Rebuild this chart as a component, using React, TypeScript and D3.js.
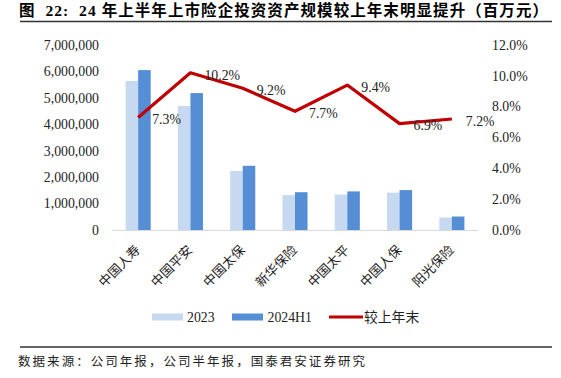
import React from "react";
import * as d3 from "d3";

const categories = ["中国人寿", "中国平安", "中国太保", "新华保险", "中国太平", "中国人保", "阳光保险"];
const series2023 = [5640000, 4690000, 2230000, 1320000, 1340000, 1410000, 470000];
const series2024H1 = [6050000, 5180000, 2430000, 1430000, 1460000, 1510000, 510000];
const growth = [0.073, 0.102, 0.092, 0.077, 0.094, 0.069, 0.072];
const leftTicks = [0, 1000000, 2000000, 3000000, 4000000, 5000000, 6000000, 7000000];
const rightTicks = [0, 0.02, 0.04, 0.06, 0.08, 0.1, 0.12];
const seriesNames = ["2023", "2024H1", "较上年末"];
const title = "图  22:  24 年上半年上市险企投资资产规模较上年末明显提升（百万元）";
const source = "数据来源：公司年报，公司半年报，国泰君安证券研究";

const C_LIGHT = "#C6D9F1";
const C_DARK = "#558ED5";
const C_RED = "#C00000";
const SERIF = "'Liberation Serif', 'Times New Roman', 'Noto Sans CJK SC', serif";
const CJK = "'Noto Sans CJK SC', 'Liberation Serif', serif";

export default function App() {
  const W = 561, H = 378;
  const x0 = d3.scaleBand<string>().domain(categories).range([112, 478]).paddingInner(0.52).paddingOuter(0.26);
  const x1 = d3.scaleBand<string>().domain(["2023", "2024H1"]).range([0, x0.bandwidth()]).padding(0);
  const yL = d3.scaleLinear().domain([0, 7000000]).range([230, 45]);
  const yR = d3.scaleLinear().domain([0, 0.12]).range([230, 45]);
  const fmtL = d3.format(",");
  const fmtR = d3.format(".1%");
  const cx = (c: string) => (x0(c) as number) + x0.bandwidth() / 2;
  const line = d3.line<number>().x((_, i) => cx(categories[i])).y((d) => yR(d));

  return (
    <svg width={W} height={H} style={{ position: "absolute", left: 0, top: 0, background: "#fff", display: "block" }}>
      <rect x={0} y={0} width={W} height={H} fill="#fff" />
      {/* title */}
      <text x={19} y={16} fontSize={15.5} fontWeight="bold" fontFamily={SERIF} textLength={529} lengthAdjust="spacing" fill="#000" style={{ whiteSpace: "pre" }}>
        {title}
      </text>
      <line x1={20} x2={552} y1={21.5} y2={21.5} stroke="#333" strokeWidth={1.3} />

      {/* left axis */}
      {leftTicks.map((t) => (
        <text key={"l" + t} x={99} y={yL(t)} dy="0.35em" textAnchor="end" fontSize={13.8} fontFamily={SERIF} fill="#222">
          {fmtL(t)}
        </text>
      ))}
      {/* right axis */}
      {rightTicks.map((t) => (
        <text key={"r" + t} x={492} y={yR(t)} dy="0.35em" textAnchor="start" fontSize={13.8} fontFamily={SERIF} fill="#222">
          {fmtR(t)}
        </text>
      ))}

      {/* bars */}
      {categories.map((c, i) => (
        <g key={c}>
          <rect x={(x0(c) as number) + (x1("2023") as number)} y={yL(series2023[i])} width={x1.bandwidth()} height={yL(0) - yL(series2023[i])} fill={C_LIGHT} />
          <rect x={(x0(c) as number) + (x1("2024H1") as number)} y={yL(series2024H1[i])} width={x1.bandwidth()} height={yL(0) - yL(series2024H1[i])} fill={C_DARK} />
        </g>
      ))}
      <line x1={112} x2={478} y1={230.5} y2={230.5} stroke="#D9D9D9" strokeWidth={1.2} />

      {/* line */}
      <path d={line(growth) as string} fill="none" stroke={C_RED} strokeWidth={3.2} strokeLinejoin="round" />
      {growth.map((g, i) => (
        <text key={"g" + i} x={cx(categories[i]) + 14} y={yR(g) + 2} dy="0.35em" fontSize={13.8} fontFamily={SERIF} fill="#222">
          {fmtR(g)}
        </text>
      ))}

      {/* x labels */}
      {categories.map((c) => (
        <text key={"x" + c} transform={`translate(${cx(c) - 1},${247}) rotate(-45)`} textAnchor="end" dominantBaseline="central" fontSize={13} fontFamily={CJK} fill="#222">
          {c}
        </text>
      ))}

      {/* legend */}
      <rect x={152} y={313.5} width={31} height={7} fill={C_LIGHT} />
      <text x={187} y={317} dy="0.35em" fontSize={13.8} fontFamily={SERIF} fill="#222">{seriesNames[0]}</text>
      <rect x={232} y={313.5} width={31} height={7} fill={C_DARK} />
      <text x={267.5} y={317} dy="0.35em" fontSize={13.8} fontFamily={SERIF} fill="#222">{seriesNames[1]}</text>
      <line x1={329} x2={363} y1={317} y2={317} stroke={C_RED} strokeWidth={3.2} />
      <text x={364} y={317} dy="0.35em" fontSize={13.8} fontFamily={CJK} fill="#222">{seriesNames[2]}</text>

      {/* source */}
      <line x1={20} x2={552} y1={347} y2={347} stroke="#333" strokeWidth={1.3} />
      <text x={18} y={362} dy="0.35em" fontSize={12.5} fontFamily={CJK} textLength={347} lengthAdjust="spacing" fill="#222">
        {source}
      </text>
    </svg>
  );
}
